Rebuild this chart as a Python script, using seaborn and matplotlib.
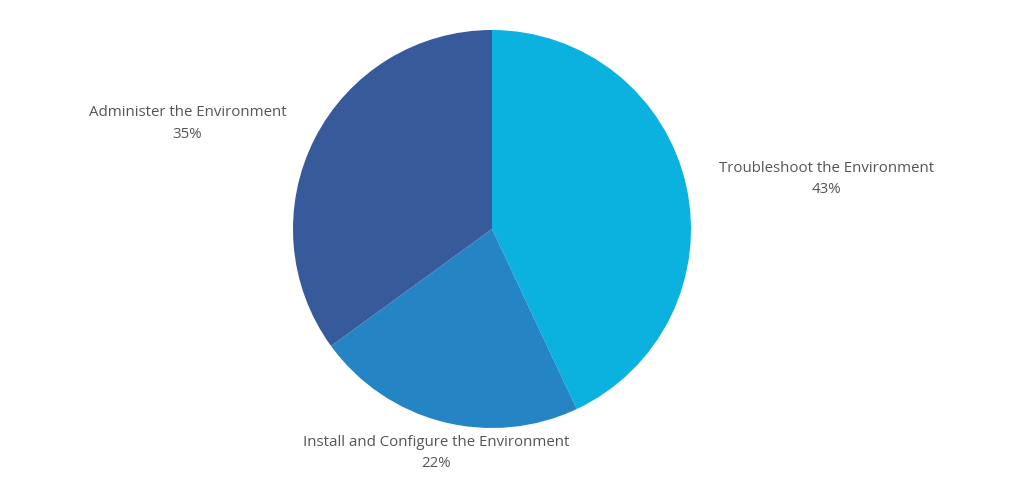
import numpy as np
import matplotlib
matplotlib.use("Agg")
import matplotlib.pyplot as plt
import seaborn as sns

categories = ["Troubleshoot the Environment", "Install and Configure the Environment", "Administer the Environment"]
values = [43, 22, 35]
colors = ["#0BB1DF", "#2585C4", "#365A9A"]
label_dist = [1.70, 1.16, 1.62]
label_angle_shift = [-4.1, 0.4, 7.9]

sns.set_theme(style="white")
plt.rcParams['font.family'] = ['Open Sans', 'DejaVu Sans']

fig = plt.figure(figsize=(10.24, 5.03), dpi=100)
ax = fig.add_axes([0, 0, 1, 1])
wedges, _ = ax.pie(values, colors=colors, startangle=90, counterclock=False,
                   radius=1.0, wedgeprops=dict(linewidth=0))
for w, cat, v, d, s in zip(wedges, categories, values, label_dist, label_angle_shift):
    mid = np.deg2rad((w.theta1 + w.theta2) / 2 + s)
    x, y = d * np.cos(mid), d * np.sin(mid)
    ax.text(x, y, f"{cat}\n{v}%", ha="center", va="center", fontsize=10.8,
            color="#555555", linespacing=1.58)
ax.set_xlim(-492 / 199, (1024 - 492) / 199)
ax.set_ylim(-(503 - 229) / 199, 229 / 199)
ax.set_aspect("auto")
ax.axis("off")
fig.savefig("out.png", dpi=100, facecolor="white")
